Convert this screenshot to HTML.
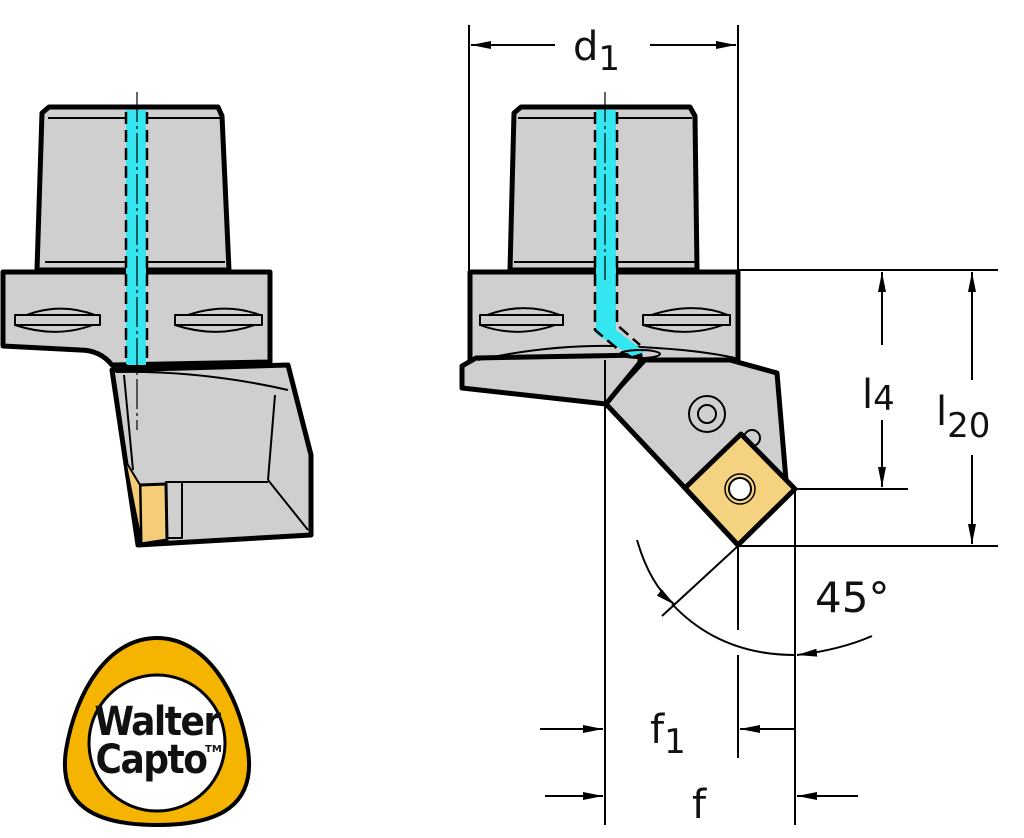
<!DOCTYPE html>
<html><head><meta charset="utf-8"><style>html,body{margin:0;padding:0;background:#fff}svg{display:block}</style></head>
<body>
<svg width="1024" height="838" viewBox="0 0 1024 838" xmlns="http://www.w3.org/2000/svg" font-family="'DejaVu Sans','Liberation Sans',sans-serif">
<defs>
<marker id="a" viewBox="0 0 20 10" refX="20" refY="5" markerWidth="20" markerHeight="10" markerUnits="userSpaceOnUse" orient="auto"><path d="M0,1 L20,5 L0,9 z" fill="#000"/></marker>
</defs>
<g stroke="#000" stroke-linejoin="round">
<!-- LEFT VIEW -->
<path d="M42,113 L49,107 L218,107 L222,116 L229,270 L37,270 Z" fill="#cfcfcf" stroke-width="5"/>
<line x1="48" y1="118" x2="220" y2="118" stroke-width="2"/>
<line x1="45" y1="262" x2="225" y2="262" stroke-width="2"/>
<path d="M3,272 L270,272 L270,362 L112,365 Q100,350 80,350 L3,346 Z" fill="#cfcfcf" stroke-width="5"/>
<path d="M112,370 L288,365 L311,455 L311,535 L138,545 Z" fill="#cfcfcf" stroke-width="5"/>
<path d="M116,372 Q200,370 288,390" fill="none" stroke-width="2"/>
<line x1="275" y1="395" x2="268" y2="480" stroke-width="2"/>
<line x1="268" y1="480" x2="308" y2="530" stroke-width="2"/>
<line x1="180" y1="482" x2="268" y2="482" stroke-width="2"/>
<line x1="124" y1="375" x2="133" y2="470" stroke-width="2"/>
<rect x="166" y="482" width="16" height="56" fill="#cfcfcf" stroke-width="2"/>
<path d="M140,485 L166,484 L167,540 L141,544 Z" fill="#f5cd78" stroke-width="3"/>
<path d="M125,460 L140,485 L141,540 Z" fill="#f5cd78" stroke-width="2"/>
<path d="M15,320 Q55,300 95,315 L100,322 Q60,340 15,325 Z" fill="#cfcfcf" stroke-width="2"/>
<rect x="15" y="315" width="85" height="10" fill="#cfcfcf" stroke-width="2"/>
<path d="M175,320 Q220,300 260,315 L262,322 Q220,340 175,325 Z" fill="#cfcfcf" stroke-width="2"/>
<rect x="175" y="315" width="87" height="10" fill="#cfcfcf" stroke-width="2"/>
<rect x="126" y="110" width="20" height="255" fill="#33e6ef" stroke="none"/>
<line x1="126" y1="112" x2="126" y2="365" stroke-width="2.5" stroke-dasharray="12,6"/>
<line x1="147" y1="112" x2="147" y2="365" stroke-width="2.5" stroke-dasharray="12,6"/>
<line x1="137" y1="92" x2="137" y2="430" stroke-width="1.2" stroke-dasharray="30,4,3,4"/>

<!-- RIGHT VIEW -->
<path d="M514,113 L521,107 L690,107 L695,116 L697,270 L510,270 Z" fill="#cfcfcf" stroke-width="5"/>
<line x1="518" y1="118" x2="692" y2="118" stroke-width="2"/>
<line x1="514" y1="262" x2="697" y2="262" stroke-width="2"/>
<rect x="470" y="272" width="268" height="88" fill="#cfcfcf" stroke-width="5"/>
<path d="M462,366 L476,358 L640,355 L640,365 L606,404 L462,388 Z" fill="#cfcfcf" stroke-width="5"/>
<path d="M642,360 L730,360 L777,373 L786,480 L738,545 L685,488 L606,404 Z" fill="#cfcfcf" stroke-width="5"/>
<path d="M478,360 Q560,342 640,347 Q700,350 735,358" fill="none" stroke-width="2"/>
<line x1="606" y1="404" x2="645" y2="362" stroke-width="2"/>
<path d="M480,318 Q520,300 560,315 L563,322 Q520,340 480,325 Z" fill="#cfcfcf" stroke-width="2"/>
<rect x="480" y="315" width="83" height="10" fill="#cfcfcf" stroke-width="2"/>
<path d="M643,318 Q690,300 728,315 L730,322 Q690,340 643,325 Z" fill="#cfcfcf" stroke-width="2"/>
<rect x="643" y="315" width="87" height="10" fill="#cfcfcf" stroke-width="2"/>
<path d="M596,110 L616,110 L616,330 L645,352 L632,356 L596,334 Z" fill="#33e6ef" stroke="none"/>
<path d="M595,112 L595,330 L625,355" fill="none" stroke-width="2.5" stroke-dasharray="12,6"/>
<path d="M617,112 L617,325 L640,345" fill="none" stroke-width="2.5" stroke-dasharray="12,6"/>
<ellipse cx="640" cy="354" rx="20" ry="4" fill="none" stroke-width="2"/>
<line x1="605" y1="92" x2="605" y2="280" stroke-width="1.2" stroke-dasharray="30,4,3,4"/>
<circle cx="707" cy="414" r="18" fill="none" stroke-width="2"/>
<circle cx="707" cy="414" r="9" fill="none" stroke-width="2"/>
<circle cx="752" cy="438" r="8" fill="#cfcfcf" stroke-width="2"/>
<path d="M685,488 L741,434 L795,489 L738,545 Z" fill="#f5d27f" stroke-width="5"/>
<circle cx="740" cy="489" r="15" fill="none" stroke-width="1.5"/>
<circle cx="740" cy="489" r="11" fill="#fff" stroke-width="2"/>

<!-- dimension lines -->
<g stroke-width="2" fill="none">
<line x1="469" y1="25" x2="469" y2="270"/>
<line x1="738" y1="25" x2="738" y2="270"/>
<line x1="555" y1="45" x2="471" y2="45" marker-end="url(#a)"/>
<line x1="650" y1="45" x2="736" y2="45" marker-end="url(#a)"/>
<line x1="738" y1="270" x2="998" y2="270"/>
<line x1="795" y1="489" x2="908" y2="489"/>
<line x1="738" y1="546" x2="998" y2="546"/>
<line x1="882" y1="345" x2="882" y2="272" marker-end="url(#a)"/>
<line x1="882" y1="420" x2="882" y2="487" marker-end="url(#a)"/>
<line x1="972" y1="380" x2="972" y2="272" marker-end="url(#a)"/>
<line x1="972" y1="455" x2="972" y2="544" marker-end="url(#a)"/>
<line x1="605" y1="360" x2="605" y2="825"/>
<line x1="738" y1="546" x2="738" y2="630"/>
<line x1="738" y1="655" x2="738" y2="758"/>
<line x1="795" y1="490" x2="795" y2="825"/>
<line x1="738" y1="546" x2="662" y2="616"/>
<line x1="540" y1="729" x2="603" y2="729" marker-end="url(#a)"/>
<line x1="795" y1="729" x2="740" y2="729" marker-end="url(#a)"/>
<line x1="545" y1="796" x2="603" y2="796" marker-end="url(#a)"/>
<line x1="858" y1="796" x2="797" y2="796" marker-end="url(#a)"/>
<path d="M637,540 Q650,585 675,605" marker-end="url(#a)"/>
<path d="M672,604 Q720,655 795,655"/>
<path d="M872,636 Q840,650 797,655" marker-end="url(#a)"/>
</g>
</g>
<g fill="#111" font-size="40">
<text x="573" y="60">d<tspan font-size="34" dy="10">1</tspan></text>
<text x="862" y="408">l<tspan font-size="34" dy="2">4</tspan></text>
<text x="936" y="425">l<tspan font-size="34" dy="12">20</tspan></text>
<text x="650" y="743">f<tspan font-size="34" dy="10">1</tspan></text>
<text x="692" y="818">f</text>
<text x="815" y="612" font-size="42">45°</text>
</g>

<!-- logo -->
<path d="M157,638 C205,638 238,690 248,750 C256,805 220,825 157,825 C94,825 58,805 66,750 C76,690 109,638 157,638 Z" fill="#f4b400" stroke="#000" stroke-width="4"/>
<circle cx="157" cy="743" r="68" fill="#fff" stroke="#000" stroke-width="3"/>
<text x="157" y="735" font-family="'DejaVu Sans Condensed','DejaVu Sans',sans-serif" font-weight="bold" font-size="40" text-anchor="middle" fill="#111" letter-spacing="-1.5">Walter</text>
<text x="151" y="773" font-family="'DejaVu Sans Condensed','DejaVu Sans',sans-serif" font-weight="bold" font-size="40" text-anchor="middle" fill="#111" letter-spacing="-1.5">Capto</text>
<text x="205" y="752" font-family="'DejaVu Sans',sans-serif" font-weight="bold" font-size="10" fill="#111">TM</text>
</svg>
</body></html>
